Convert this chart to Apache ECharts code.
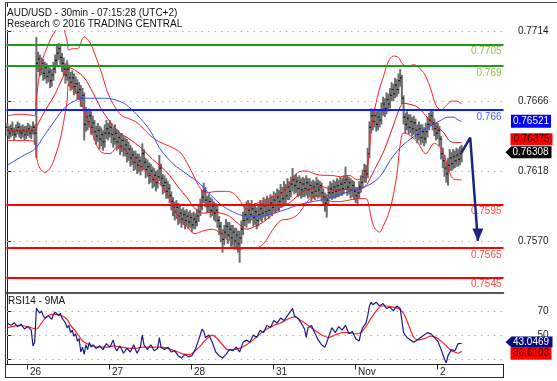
<!DOCTYPE html>
<html><head><meta charset="utf-8">
<script src="https://cdn.jsdelivr.net/npm/echarts@6/dist/echarts.min.js"></script>
<style>html,body{margin:0;padding:0;background:#fff}#c{width:557px;height:381px}</style>
</head><body><div id="c"></div>
<script>
// ---------- DATA ----------
const dayLabels = ['26', '27', '28', '31', 'Nov', '2'];
const dayBoundaries = [11.5, 59.5, 107.5, 155.5, 203.5, 251.5];
const priceTicks = [0.7570, 0.7618, 0.7666, 0.7714];
const rsiTicks = [30, 50, 70];
const rsiLabelTicks = [50, 70];

const opens = [0.7648,0.7646,0.7644,0.7647,0.7645,0.7643,0.7646,0.7648,0.7645,0.7644,
0.7646,0.7643,0.7645,0.7647,0.7644,0.7646,0.7648,0.7644,0.7692,0.7695,
0.7688,0.7692,0.7685,0.7689,0.7683,0.7686,0.7680,0.7684,0.7688,0.7694,
0.7699,0.7702,0.7696,0.7692,0.7688,0.7684,0.7688,0.7682,0.7679,0.7682,
0.7676,0.7678,0.7672,0.7674,0.7668,0.7670,0.7650,0.7655,0.7652,0.7656,
0.7648,0.7651,0.7645,0.7642,0.7646,0.7640,0.7643,0.7638,0.7644,0.7647,
0.7644,0.7648,0.7643,0.7640,0.7644,0.7638,0.7641,0.7635,0.7639,0.7633,
0.7636,0.7630,0.7633,0.7627,0.7629,0.7624,0.7627,0.7622,0.7625,0.7621,
0.7630,0.7624,0.7619,0.7621,0.7615,0.7618,0.7612,0.7615,0.7610,0.7614,
0.7620,0.7613,0.7608,0.7610,0.7604,0.7606,0.7601,0.7597,0.7593,0.7590,
0.7593,0.7587,0.7589,0.7585,0.7588,0.7584,0.7587,0.7583,0.7586,0.7581,
0.7585,0.7583,0.7587,0.7590,0.7594,0.7600,0.7604,0.7598,0.7594,0.7597,
0.7591,0.7594,0.7589,0.7591,0.7584,0.7580,0.7575,0.7571,0.7576,0.7580,
0.7574,0.7578,0.7572,0.7576,0.7570,0.7574,0.7568,0.7572,0.7578,0.7584,
0.7588,0.7585,0.7591,0.7588,0.7592,0.7586,0.7590,0.7584,0.7588,0.7592,
0.7589,0.7594,0.7590,0.7595,0.7591,0.7596,0.7593,0.7598,0.7595,0.7600,
0.7597,0.7603,0.7599,0.7605,0.7601,0.7607,0.7604,0.7609,0.7612,0.7608,
0.7611,0.7606,0.7610,0.7605,0.7609,0.7606,0.7610,0.7605,0.7608,0.7603,
0.7607,0.7604,0.7609,0.7605,0.7608,0.7603,0.7600,0.7596,0.7598,0.7603,
0.7606,0.7603,0.7607,0.7604,0.7608,0.7605,0.7609,0.7606,0.7610,0.7612,
0.7607,0.7610,0.7605,0.7608,0.7604,0.7601,0.7603,0.7607,0.7610,0.7614,
0.7618,0.7616,0.7630,0.7648,0.7656,0.7652,0.7656,0.7650,0.7655,0.7653,
0.7660,0.7664,0.7661,0.7667,0.7664,0.7670,0.7674,0.7671,0.7677,0.7674,
0.7680,0.7682,0.7668,0.7655,0.7650,0.7654,0.7648,0.7652,0.7647,0.7651,
0.7646,0.7643,0.7647,0.7641,0.7645,0.7640,0.7645,0.7650,0.7653,0.7656,
0.7651,0.7647,0.7644,0.7646,0.7640,0.7630,0.7625,0.7620,0.7616,0.7622,
0.7627,0.7623,0.7628,0.7625,0.7629,0.7626,0.7630];
const highs = [0.7651,0.7649,0.7650,0.7652,0.7648,0.7650,0.7652,0.7651,0.7649,0.7650,
0.7649,0.7649,0.7651,0.7650,0.7649,0.7652,0.7650,0.7710,0.7700,0.7698,
0.7696,0.7695,0.7693,0.7692,0.7690,0.7689,0.7688,0.7693,0.7698,0.7704,
0.7706,0.7705,0.7699,0.7696,0.7692,0.7694,0.7691,0.7686,0.7687,0.7685,
0.7683,0.7681,0.7679,0.7677,0.7675,0.7672,0.7662,0.7660,0.7661,0.7659,
0.7656,0.7653,0.7649,0.7651,0.7649,0.7648,0.7646,0.7650,0.7653,0.7651,
0.7653,0.7651,0.7648,0.7650,0.7647,0.7646,0.7644,0.7644,0.7642,0.7641,
0.7640,0.7638,0.7636,0.7634,0.7632,0.7632,0.7630,0.7630,0.7628,0.7637,
0.7633,0.7627,0.7626,0.7624,0.7623,0.7621,0.7620,0.7618,0.7619,0.7629,
0.7623,0.7616,0.7615,0.7613,0.7611,0.7609,0.7604,0.7600,0.7597,0.7598,
0.7596,0.7594,0.7592,0.7593,0.7591,0.7592,0.7590,0.7591,0.7589,0.7590,
0.7589,0.7592,0.7595,0.7599,0.7605,0.7610,0.7607,0.7601,0.7602,0.7600,
0.7599,0.7597,0.7596,0.7594,0.7587,0.7583,0.7578,0.7581,0.7585,0.7583,
0.7583,0.7581,0.7581,0.7579,0.7579,0.7577,0.7577,0.7584,0.7590,0.7594,
0.7597,0.7598,0.7596,0.7598,0.7595,0.7596,0.7593,0.7594,0.7598,0.7597,
0.7600,0.7598,0.7601,0.7599,0.7602,0.7601,0.7604,0.7603,0.7606,0.7605,
0.7609,0.7607,0.7611,0.7609,0.7613,0.7611,0.7614,0.7620,0.7615,0.7616,
0.7614,0.7615,0.7613,0.7614,0.7613,0.7615,0.7613,0.7613,0.7611,0.7612,
0.7611,0.7614,0.7612,0.7611,0.7610,0.7606,0.7603,0.7602,0.7608,0.7611,
0.7610,0.7612,0.7611,0.7613,0.7612,0.7614,0.7613,0.7615,0.7621,0.7615,
0.7614,0.7613,0.7612,0.7611,0.7607,0.7607,0.7611,0.7615,0.7619,0.7623,
0.7622,0.7634,0.7652,0.7661,0.7660,0.7661,0.7659,0.7660,0.7660,0.7665,
0.7669,0.7668,0.7672,0.7671,0.7675,0.7679,0.7678,0.7682,0.7681,0.7685,
0.7688,0.7684,0.7670,0.7658,0.7659,0.7657,0.7657,0.7655,0.7656,0.7654,
0.7650,0.7652,0.7650,0.7650,0.7648,0.7651,0.7655,0.7658,0.7660,0.7659,
0.7654,0.7651,0.7651,0.7649,0.7642,0.7634,0.7629,0.7624,0.7627,0.7633,
0.7631,0.7633,0.7632,0.7634,0.7633,0.7635,0.7636];
const lows = [0.7642,0.7640,0.7641,0.7642,0.7639,0.7641,0.7643,0.7641,0.7640,0.7641,
0.7639,0.7640,0.7642,0.7641,0.7640,0.7643,0.7636,0.7627,0.7686,0.7683,
0.7684,0.7680,0.7681,0.7678,0.7679,0.7675,0.7676,0.7680,0.7685,0.7690,
0.7694,0.7691,0.7686,0.7683,0.7678,0.7680,0.7676,0.7673,0.7674,0.7670,
0.7671,0.7667,0.7667,0.7662,0.7662,0.7639,0.7645,0.7646,0.7648,0.7643,
0.7643,0.7639,0.7636,0.7638,0.7633,0.7635,0.7632,0.7634,0.7640,0.7639,
0.7641,0.7637,0.7634,0.7636,0.7632,0.7633,0.7629,0.7631,0.7628,0.7628,
0.7624,0.7625,0.7621,0.7622,0.7618,0.7619,0.7616,0.7617,0.7615,0.7618,
0.7619,0.7613,0.7614,0.7609,0.7610,0.7606,0.7607,0.7604,0.7606,0.7611,
0.7608,0.7602,0.7603,0.7599,0.7599,0.7596,0.7591,0.7587,0.7584,0.7585,
0.7581,0.7582,0.7579,0.7581,0.7578,0.7580,0.7578,0.7579,0.7576,0.7578,
0.7578,0.7580,0.7583,0.7587,0.7591,0.7596,0.7593,0.7589,0.7590,0.7586,
0.7587,0.7584,0.7583,0.7579,0.7574,0.7569,0.7562,0.7567,0.7572,0.7568,
0.7570,0.7566,0.7567,0.7564,0.7565,0.7562,0.7555,0.7568,0.7574,0.7580,
0.7579,0.7582,0.7582,0.7584,0.7580,0.7581,0.7578,0.7580,0.7584,0.7583,
0.7586,0.7584,0.7587,0.7585,0.7588,0.7587,0.7590,0.7589,0.7591,0.7590,
0.7593,0.7593,0.7595,0.7595,0.7598,0.7598,0.7600,0.7604,0.7602,0.7603,
0.7600,0.7601,0.7599,0.7600,0.7600,0.7601,0.7599,0.7600,0.7597,0.7599,
0.7598,0.7600,0.7599,0.7600,0.7597,0.7594,0.7590,0.7586,0.7594,0.7599,
0.7598,0.7599,0.7599,0.7600,0.7600,0.7601,0.7601,0.7602,0.7605,0.7601,
0.7602,0.7599,0.7600,0.7598,0.7596,0.7595,0.7599,0.7603,0.7606,0.7610,
0.7610,0.7613,0.7627,0.7644,0.7646,0.7648,0.7645,0.7646,0.7648,0.7650,
0.7656,0.7655,0.7657,0.7659,0.7661,0.7666,0.7666,0.7668,0.7669,0.7671,
0.7676,0.7664,0.7650,0.7644,0.7646,0.7643,0.7644,0.7642,0.7643,0.7640,
0.7637,0.7639,0.7636,0.7637,0.7635,0.7637,0.7641,0.7646,0.7649,0.7646,
0.7642,0.7639,0.7640,0.7635,0.7626,0.7620,0.7614,0.7610,0.7608,0.7618,
0.7618,0.7619,0.7620,0.7621,0.7621,0.7622,0.7624];
const closes = [0.7646,0.7644,0.7647,0.7645,0.7643,0.7646,0.7648,0.7645,0.7644,0.7646,
0.7643,0.7645,0.7647,0.7644,0.7646,0.7648,0.7644,0.7692,0.7695,0.7688,
0.7692,0.7685,0.7689,0.7683,0.7686,0.7680,0.7684,0.7688,0.7694,0.7699,
0.7702,0.7696,0.7692,0.7688,0.7684,0.7688,0.7682,0.7679,0.7682,0.7676,
0.7678,0.7672,0.7674,0.7668,0.7670,0.7650,0.7655,0.7652,0.7656,0.7648,
0.7651,0.7645,0.7642,0.7646,0.7640,0.7643,0.7638,0.7644,0.7647,0.7644,
0.7648,0.7643,0.7640,0.7644,0.7638,0.7641,0.7635,0.7639,0.7633,0.7636,
0.7630,0.7633,0.7627,0.7629,0.7624,0.7627,0.7622,0.7625,0.7621,0.7630,
0.7624,0.7619,0.7621,0.7615,0.7618,0.7612,0.7615,0.7610,0.7614,0.7620,
0.7613,0.7608,0.7610,0.7604,0.7606,0.7601,0.7597,0.7593,0.7590,0.7593,
0.7587,0.7589,0.7585,0.7588,0.7584,0.7587,0.7583,0.7586,0.7581,0.7585,
0.7583,0.7587,0.7590,0.7594,0.7600,0.7604,0.7598,0.7594,0.7597,0.7591,
0.7594,0.7589,0.7591,0.7584,0.7580,0.7575,0.7571,0.7576,0.7580,0.7574,
0.7578,0.7572,0.7576,0.7570,0.7574,0.7568,0.7572,0.7578,0.7584,0.7588,
0.7585,0.7591,0.7588,0.7592,0.7586,0.7590,0.7584,0.7588,0.7592,0.7589,
0.7594,0.7590,0.7595,0.7591,0.7596,0.7593,0.7598,0.7595,0.7600,0.7597,
0.7603,0.7599,0.7605,0.7601,0.7607,0.7604,0.7609,0.7612,0.7608,0.7611,
0.7606,0.7610,0.7605,0.7609,0.7606,0.7610,0.7605,0.7608,0.7603,0.7607,
0.7604,0.7609,0.7605,0.7608,0.7603,0.7600,0.7596,0.7598,0.7603,0.7606,
0.7603,0.7607,0.7604,0.7608,0.7605,0.7609,0.7606,0.7610,0.7612,0.7607,
0.7610,0.7605,0.7608,0.7604,0.7601,0.7603,0.7607,0.7610,0.7614,0.7618,
0.7616,0.7630,0.7648,0.7656,0.7652,0.7656,0.7650,0.7655,0.7653,0.7660,
0.7664,0.7661,0.7667,0.7664,0.7670,0.7674,0.7671,0.7677,0.7674,0.7680,
0.7682,0.7668,0.7655,0.7650,0.7654,0.7648,0.7652,0.7647,0.7651,0.7646,
0.7643,0.7647,0.7641,0.7645,0.7640,0.7645,0.7650,0.7653,0.7656,0.7651,
0.7647,0.7644,0.7646,0.7640,0.7630,0.7625,0.7620,0.7616,0.7622,0.7627,
0.7623,0.7628,0.7625,0.7629,0.7626,0.7630,0.76308];

const upperBand = [[0,0.7656],[8,0.7657],[16,0.7656],[17,0.7668],[20,0.7692],[24,0.7705],[28,0.7714],[32,0.7718],[33,0.7716],[34,0.7712],[35,0.7707],[36,0.7701],[38,0.7702],[41,0.7702],[45,0.7710],[48,0.7707],[51,0.7699],[55,0.7686],[59,0.7671],[63,0.7662],[67,0.7656],[71,0.7654],[75,0.7652],[78,0.7649],[84,0.7642],[89,0.7638],[95,0.7635],[101,0.7631],[105,0.7624],[109,0.7615],[113,0.7606],[117,0.7603],[122,0.7604],[127,0.7604],[132,0.7603],[136,0.7598],[140,0.7592],[145,0.7595],[150,0.7598],[155,0.7600],[160,0.7602],[165,0.7609],[170,0.7617],[175,0.7618],[180,0.7616],[185,0.7615],[190,0.7615],[195,0.7614],[200,0.7615],[205,0.7612],[209,0.7615],[211,0.7622],[212,0.7632],[213,0.7645],[215,0.7660],[218,0.7675],[220,0.7682],[223,0.7693],[226,0.7697],[229,0.7696],[231,0.7692],[234,0.7690],[238,0.7691],[242,0.7688],[245,0.7683],[248,0.7674],[251,0.7663],[254,0.7660],[257,0.7663],[260,0.7666],[263,0.7666],[266,0.7664]];
const middleBand = [[0,0.76455],[16,0.76455],[17,0.7648],[20,0.7655],[24,0.7663],[28,0.7671],[32,0.7681],[36,0.7689],[40,0.7687],[45,0.7682],[50,0.7672],[55,0.76605],[60,0.7652],[65,0.7645],[70,0.7641],[75,0.7637],[80,0.7632],[85,0.7626],[90,0.7621],[95,0.7615],[100,0.7607],[105,0.7600],[110,0.7592],[115,0.7589],[120,0.7590],[125,0.7589],[130,0.7587],[135,0.7582],[140,0.7578],[145,0.7580],[150,0.7583],[155,0.7588],[160,0.7593],[165,0.7596],[170,0.7601],[175,0.7605],[180,0.76065],[185,0.7607],[190,0.7605],[195,0.7605],[200,0.76055],[205,0.7605],[210,0.7608],[212,0.7612],[215,0.7619],[220,0.76305],[225,0.7646],[230,0.7662],[232,0.76645],[235,0.7664],[240,0.7662],[245,0.7656],[250,0.76495],[255,0.7645],[260,0.7638],[266,0.76375]];
const lowerBand = [[0,0.7639],[8,0.7639],[16,0.7638],[17,0.7628],[19,0.7620],[22,0.7617],[25,0.7620],[28,0.7628],[31,0.7640],[33,0.7652],[34,0.7659],[35,0.7666],[36,0.7678],[40,0.7673],[45,0.7659],[50,0.7643],[55,0.7631],[60,0.7630],[65,0.7635],[70,0.7631],[75,0.7625],[80,0.7619],[85,0.7614],[90,0.7608],[95,0.7599],[100,0.7587],[105,0.7580],[110,0.7575],[115,0.7577],[120,0.7578],[125,0.7575],[130,0.7569],[135,0.7564],[140,0.7565],[145,0.7565],[150,0.7568],[155,0.7577],[160,0.7584],[165,0.7585],[170,0.7588],[175,0.7596],[180,0.7601],[185,0.7601],[190,0.7597],[195,0.7597],[200,0.7598],[205,0.7599],[210,0.7599],[212,0.7592],[213,0.7586],[215,0.7579],[218,0.7576],[220,0.7580],[223,0.7588],[225,0.7596],[228,0.7615],[230,0.7636],[232,0.7644],[235,0.7643],[240,0.7638],[245,0.7630],[250,0.7637],[255,0.7631],[260,0.7614],[263,0.7612],[266,0.7612]];
const blueMA = [[0,0.7622],[10,0.7629],[16,0.7633],[22,0.7643],[28,0.7653],[34,0.7662],[41,0.7667],[45,0.7668],[57,0.7668],[63,0.7667],[69,0.7664],[73,0.7660],[78,0.7654],[84,0.7645],[89,0.7634],[97,0.7623],[105,0.7616],[113,0.7609],[117,0.7604],[125,0.7595],[132,0.7590],[140,0.7587],[148,0.7587],[156,0.7589],[164,0.7592],[171,0.7595],[179,0.7597],[187,0.7599],[195,0.7602],[203,0.7605],[211,0.7608],[218,0.7614],[224,0.7625],[230,0.7634],[236,0.7640],[242,0.7645],[248,0.7649],[254,0.7653],[258,0.7655],[261,0.7655],[264,0.7653],[266,0.76521]];

const rsi14 = [[0,60],[2,58],[4,60],[6,57],[8,59],[10,55],[12,57],[14,54],[15,41],[16,44],[17,72],[18,70],[19,68],[20,70],[21,66],[22,64],[24,66],[26,63],[27,67],[28,69],[29,70],[30,66],[31,68],[32,64],[33,62],[34,60],[35,56],[36,58],[37,52],[38,54],[39,49],[40,51],[41,45],[42,47],[43,36],[44,40],[45,34],[46,42],[47,38],[48,44],[49,40],[50,42],[52,39],[54,41],[56,38],[58,43],[60,40],[62,46],[63,40],[64,37],[66,41],[68,35],[70,39],[72,36],[74,42],[75,38],[76,35],[78,41],[79,50],[80,42],[82,38],[84,42],[86,37],[88,39],[89,48],[90,40],[92,38],[94,40],[96,36],[98,37],[100,33],[102,31],[104,34],[106,32],[108,33],[110,38],[112,46],[114,55],[115,53],[116,48],[118,50],[120,44],[122,36],[124,33],[126,31],[128,34],[130,38],[132,37],[134,40],[136,36],[138,44],[140,46],[142,44],[144,50],[146,48],[148,54],[150,52],[152,58],[154,56],[156,62],[158,60],[160,64],[162,62],[164,66],[166,70],[167,72],[168,66],[170,64],[172,60],[174,55],[175,48],[176,56],[178,58],[180,52],[182,46],[184,42],[186,40],[188,48],[190,56],[192,52],[194,57],[196,54],[198,58],[200,51],[202,53],[204,47],[206,45],[207,52],[208,56],[210,60],[211,66],[212,74],[213,77],[214,75],[216,77],[218,74],[220,76],[222,72],[224,73],[226,70],[228,74],[230,72],[231,62],[232,52],[234,48],[236,46],[238,44],[240,46],[242,48],[244,50],[246,52],[248,51],[250,48],[252,45],[254,38],[256,30],[257,27],[258,33],[260,38],[262,37],[264,43],[266,43.0469]];
const rsiMA9 = [[0,56],[8,58],[14,56],[17,55],[20,60],[23,65],[26,67],[29,67],[32,66],[35,63],[37,58],[40,53],[43,47],[45,44],[50,41],[55,40],[58,40],[62,41],[67,40],[72,39],[75,39],[79,40],[84,40],[89,40],[94,39],[100,36],[104,34],[107,34],[110,37],[113,41],[116,46],[120,50],[123,47],[126,42],[129,38],[132,38],[136,39],[140,42],[144,46],[148,51],[152,55],[156,58],[160,60],[164,63],[168,65],[172,62],[176,58],[180,54],[184,50],[188,48],[192,50],[196,52],[200,52],[204,51],[207,52],[210,57],[213,64],[216,70],[219,74],[222,74],[226,73],[229,72],[232,68],[235,58],[238,48],[241,46],[244,47],[248,49],[251,48],[254,45],[257,41],[260,37],[262,36],[264,35],[266,36.6103]];

const greenLevels = [0.7705, 0.769];
const blueLevels = [0.766];
const redLevels = [0.7595, 0.7565, 0.7545];
const projection = [[266, 0.76308], [271, 0.7641], [275.5, 0.7570]];
const tagBlueMA = 0.76521, tagMiddle = 0.76375, tagLast = 0.76308;
const tagRsi = 43.0469, tagRsiMA = 36.6103;

// ---------- CHART ----------
const FONT = 'Liberation Sans, Arial, sans-serif';
const ohlc = closes.map((c, i) => [i, opens[i], highs[i], lows[i], c]);
const XMIN = -0.5, XMAX = 290.5;
const chart = echarts.init(document.getElementById('c'), null, {renderer: 'canvas'});
const levelLine = (v, color, labelColor) => ({
  yAxis: v,
  lineStyle: {color: color, width: 2, type: 'solid'},
  label: {show: true, formatter: String(v), position: 'insideEndBottom', distance: 2,
          color: labelColor, fontSize: 10, fontFamily: FONT}
});
const gridLine = (v) => ({yAxis: v});
const tag = (x, v, text, bg, fg, size, offset, arrow) => ({
  coord: [x, v], value: v,
  symbol: arrow ? 'path://M0,6L6,0L46,0L46,12L6,12Z' : 'rect',
  symbolSize: size, symbolOffset: offset, symbolKeepAspect: false,
  itemStyle: {color: bg},
  label: {show: true, position: 'inside', formatter: text, color: fg, fontSize: 10,
          fontFamily: FONT, offset: arrow ? [2, 0] : [0, 0]}
});
const dotted = {color: '#b4b4b4', type: [1.5, 5], width: 1};

const option = {
  animation: false,
  backgroundColor: '#fff',
  textStyle: {fontFamily: FONT},
  title: [
    {text: 'AUD/USD - 30min - 07:15:28 (UTC+2)\nResearch © 2016 TRADING CENTRAL', left: 5, top: 7,
     backgroundColor: '#fff', padding: [0, 3, 0, 2], z: 10,
     textStyle: {fontSize: 10, fontWeight: 'normal', color: '#111', lineHeight: 11.5, fontFamily: FONT}},
    {text: 'RSI14 - 9MA', left: 6, top: 294, padding: [1, 2, 0, 2],
     textStyle: {fontSize: 10, fontWeight: 'normal', color: '#111', lineHeight: 12, fontFamily: FONT}}
  ],
  grid: [
    {left: 6.5, right: 53.5, top: 3, height: 290},
    {left: 6.5, right: 53.5, top: 293.5, height: 71}
  ],
  xAxis: [
    {gridIndex: 0, type: 'value', min: XMIN, max: XMAX,
     axisLine: {show: true, onZero: false, lineStyle: {color: '#222', width: 1.5}},
     axisTick: {show: false}, axisLabel: {show: false}, splitLine: {show: false}},
    {gridIndex: 1, type: 'value', min: XMIN, max: XMAX,
     axisLine: {show: true, onZero: false, lineStyle: {color: '#222', width: 1}},
     axisTick: {show: true, length: 5, customValues: dayBoundaries, lineStyle: {color: '#222'}},
     axisLabel: {show: true, customValues: dayBoundaries, align: 'left', margin: 3,
       formatter: (v) => dayLabels[dayBoundaries.indexOf(v)] || '', color: '#222', fontSize: 10,
       fontFamily: FONT, padding: [0, 0, 0, 3]},
     splitLine: {show: false}}
  ],
  yAxis: [
    {gridIndex: 0, type: 'value', position: 'right', min: 0.75342, max: 0.77334,
     axisLine: {show: true, lineStyle: {color: '#222'}},
     axisTick: {show: true, length: 4, customValues: priceTicks, lineStyle: {color: '#222'}},
     axisLabel: {show: true, customValues: priceTicks, formatter: (v) => v.toFixed(4), align: 'right',
       margin: 45, color: '#222', fontSize: 10, fontFamily: FONT},
     splitLine: {show: false}},
    {gridIndex: 1, type: 'value', position: 'right', min: 25.7, max: 84.3,
     axisLine: {show: true, lineStyle: {color: '#222'}},
     axisTick: {show: true, length: 4, customValues: rsiTicks, lineStyle: {color: '#222'}},
     axisLabel: {show: true, customValues: rsiLabelTicks, formatter: (v) => String(v), align: 'right',
       margin: 45, color: '#222', fontSize: 10, fontFamily: FONT},
     splitLine: {show: false}}
  ],
  series: [
    {name: 'OHLC', type: 'custom', xAxisIndex: 0, yAxisIndex: 0, data: ohlc, z: 2,
     encode: {x: 0, y: [1, 2, 3, 4]},
     renderItem: function (params, api) {
       const x = api.value(0);
       const ph = api.coord([x, api.value(2)]);
       const pl = api.coord([x, api.value(3)]);
       const po = api.coord([x, api.value(1)]);
       const pc = api.coord([x, api.value(4)]);
       return {type: 'group', children: [
         {type: 'line', shape: {x1: ph[0], y1: ph[1], x2: pl[0], y2: pl[1]}, style: {stroke: '#6c6c6c', lineWidth: 2}},
         {type: 'line', shape: {x1: po[0] - 1.4, y1: po[1], x2: po[0], y2: po[1]}, style: {stroke: '#000', lineWidth: 1}},
         {type: 'line', shape: {x1: pc[0], y1: pc[1], x2: pc[0] + 1.4, y2: pc[1]}, style: {stroke: '#000', lineWidth: 1}}
       ]};
     }},
    {name: 'Upper', type: 'line', xAxisIndex: 0, yAxisIndex: 0, data: upperBand, showSymbol: false,
     smooth: 0.35, z: 3, lineStyle: {color: '#ff2020', width: 1},
     markLine: {silent: true, symbol: 'none', z: 1, precision: 6, label: {show: false},
       lineStyle: dotted, data: priceTicks.map(gridLine)}},
    {name: 'Middle', type: 'line', xAxisIndex: 0, yAxisIndex: 0, data: middleBand, showSymbol: false,
     smooth: 0.35, z: 3, lineStyle: {color: '#e81010', width: 1},
     markPoint: {silent: true, z: 20, data: [tag(XMAX, tagMiddle, '0.76375', '#ff0000', '#2a0000', [42, 12], [28, -3.4], false)]}},
    {name: 'Lower', type: 'line', xAxisIndex: 0, yAxisIndex: 0, data: lowerBand, showSymbol: false,
     smooth: 0.35, z: 3, lineStyle: {color: '#ff2020', width: 1}},
    {name: 'MA', type: 'line', xAxisIndex: 0, yAxisIndex: 0, data: blueMA, showSymbol: false,
     smooth: 0.35, z: 3, lineStyle: {color: '#3a4cff', width: 1},
     markPoint: {silent: true, z: 20, data: [tag(XMAX, tagBlueMA, '0.76521', '#0000ff', '#fff', [40, 13], [27.5, 0], false)]},
     markLine: {silent: true, symbol: 'none', z: 6, precision: 6, data: [
       ...greenLevels.map(v => levelLine(v, '#1f9a1f', '#8cc63f')),
       ...blueLevels.map(v => levelLine(v, '#0a1eff', '#5060ff')),
       ...redLevels.map(v => levelLine(v, '#ff0000', '#ff4a4a'))
     ]}},
    {name: 'Projection', type: 'line', xAxisIndex: 0, yAxisIndex: 0, z: 8,
     data: projection.map((p, i) => i === projection.length - 1
       ? {value: p, symbol: 'triangle', symbolSize: [11, 13], symbolRotate: 180, symbolOffset: [0, -6],
          itemStyle: {color: '#1c2582'}}
       : {value: p, symbol: 'none'}),
     showSymbol: true, lineStyle: {color: '#1c2582', width: 2.5},
     markPoint: {silent: true, z: 20, data: [tag(XMAX, tagLast, '0.76308', '#000', '#fff', [46, 12], [25, 0], true)]}},
    {name: 'RSI MA', type: 'line', xAxisIndex: 1, yAxisIndex: 1, data: rsiMA9, showSymbol: false,
     smooth: 0.3, z: 3, lineStyle: {color: '#ff2020', width: 1.2},
     markLine: {silent: true, symbol: 'none', z: 1, precision: 6, label: {show: false},
       lineStyle: dotted, data: rsiTicks.map(gridLine)},
     markPoint: {silent: true, z: 20, data: [tag(XMAX, tagRsiMA, '36.6103', '#ff0000', '#2a0000', [41, 12.5], [27.5, 2.3], false)]}},
    {name: 'RSI', type: 'line', xAxisIndex: 1, yAxisIndex: 1, data: rsi14, showSymbol: false,
     z: 4, lineStyle: {color: '#1a1a8a', width: 1.2},
     markPoint: {silent: true, z: 20, data: [tag(XMAX, tagRsi, '43.0469', '#0a0a80', '#fff', [47, 11], [25.5, -1.4], true)]}}
  ],
  graphic: [
    {type: 'line', shape: {x1: 5, y1: 2.5, x2: 557, y2: 2.5}, style: {stroke: '#444', lineWidth: 1}, z: 50},
    {type: 'line', shape: {x1: 5.5, y1: 2.5, x2: 5.5, y2: 378}, style: {stroke: '#333', lineWidth: 1}, z: 50},
    {type: 'line', shape: {x1: 5, y1: 377.5, x2: 503.5, y2: 377.5}, style: {stroke: '#333', lineWidth: 1}, z: 50},
    {type: 'line', shape: {x1: 503.5, y1: 364, x2: 503.5, y2: 378}, style: {stroke: '#222', lineWidth: 1}, z: 50}
  ]
};
chart.setOption(option);
</script></body></html>
